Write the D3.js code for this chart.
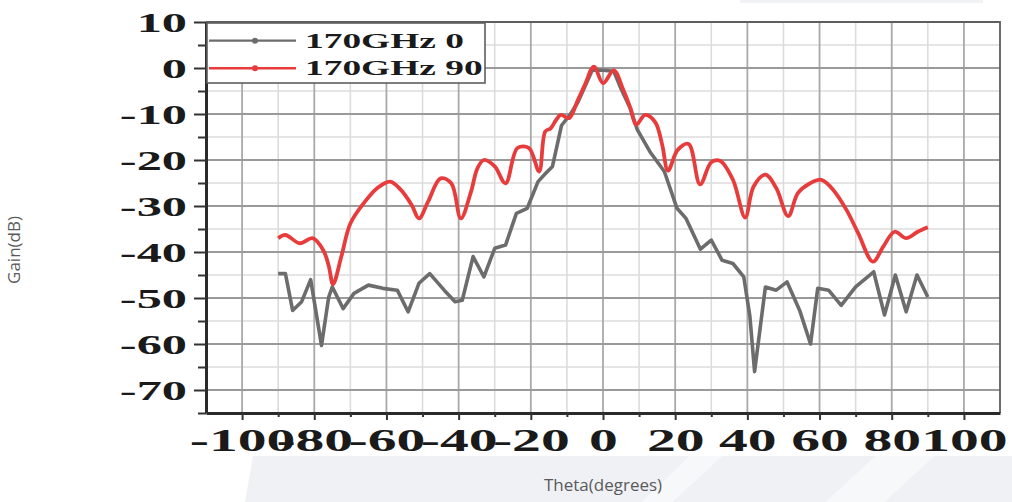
<!DOCTYPE html>
<html lang="en">
<head>
<meta charset="UTF-8">
<title>Gain vs Theta</title>
<style>
    html, body { margin: 0; padding: 0; background: #fff; }
    svg { display: block; }
    .tick text { font-family: "Liberation Serif", "Times New Roman", serif; font-weight: bold; fill: #1a1a1a; }
    .axis-title { font-family: "Open Sans", sans-serif; font-size: 17px; fill: #5a5a5a; }
</style>
</head>
<body>
<svg id="chart"></svg>
<script src="https://d3js.org/d3.v7.min.js"></script>
<script>
    // 170GHz 0 (gray)
    var thetaGray = [-90, -88, -86, -83.5, -81, -78, -76, -75, -72, -69, -65, -61, -57, -54, -51, -48, -44, -41, -39, -36,
        -33, -30, -27, -24, -21, -18, -16, -14, -11.5, -9, -7, -5, -3, 0, 3, 5, 7.5, 9.5, 13, 17,
        20.5, 23, 27, 30, 33, 36, 39, 40.7, 42, 45, 48, 51, 54.5, 57.5, 59.5, 62.5, 66, 70, 75, 78,
        81, 84, 87, 90]
    var gainGray = [-44.7, -44.7, -52.7, -50.8, -46, -60.3, -49.8, -47.6, -52.3, -49, -47.2, -47.9, -48.3, -53, -46.8, -44.7, -48.3, -50.8, -50.5, -41,
        -45.4, -39.2, -38.5, -31.6, -30.5, -24.7, -23, -21.4, -12.5, -10, -7.5, -4, -0.5, -0.5, -0.7, -4.5, -8.7, -13.4, -18.2, -22.5,
        -30.5, -32.7, -39.4, -37.4, -41.8, -42.5, -45.4, -54, -66, -47.6, -48.3, -46.5, -52.7, -60, -47.9, -48.3, -51.6, -47.6, -44.3, -53.7,
        -45, -53, -45, -49.8]

    // 170GHz 90 (red)
    var thetaRed = [-90, -88, -84, -80.5, -77.5, -76, -74.8, -72.5, -70, -66, -62.5, -59, -56, -53, -51, -48.5, -45, -42, -39.4, -36.6,
        -34.8, -33, -30, -27, -23.7, -20.5, -17.7, -16, -14.5, -13, -11.7, -9.4, -7, -5, -2.5, 0, 3, 5.5, 7.6, 9.2,
        11.7, 14.5, 16.4, 18, 20.7, 23.7, 26.9, 30, 32.5, 36, 39.4, 41.7, 45, 48, 51.3, 54, 57.3, 60.5, 63.8, 67.5,
        70.7, 74.8, 77.6, 80.8, 84, 87.2, 90]
    var gainRed = [-37, -36.3, -38.1, -37, -39.6, -43, -47, -41, -33.8, -29.1, -26.1, -24.7, -26.5, -29.8, -32.7, -29.1, -24, -25.1, -32.7, -27,
        -21.8, -20, -21.4, -25.1, -17.4, -17.4, -22.5, -13.8, -13.1, -11.3, -10.2, -10.9, -7, -3.6, 0.3, -3.3, -0.5, -4.5, -8.7, -12.3,
        -10.2, -11.8, -16.7, -22.3, -17.8, -16.5, -25.3, -20.5, -20.2, -24.3, -32.5, -25.8, -23.2, -26.1, -32.2, -27.2, -25.1, -24.3, -26.5, -30.9,
        -35.9, -42.1, -38.9, -35.6, -37, -35.6, -34.6]

    var seriesNames = ['170GHz 0', '170GHz 90']
    var xTicks = [-100, -80, -60, -40, -20, 0, 20, 40, 60, 80, 100]
    var xMinor = [-110, -90, -70, -50, -30, -10, 10, 30, 50, 70, 90, 110]
    var yTicks = [-70, -60, -50, -40, -30, -20, -10, 0, 10]
    var yMinor = [-75, -65, -55, -45, -35, -25, -15, -5, 5]

    var svgWidth = 1012, svgHeight = 502
    var plotLeft = 206, plotRight = 1000, plotTop = 22, plotBottom = 413
    var gray = '#6c6c6c', red = '#e83b3b'

    var svg = d3.select('#chart')
        .attr('width', svgWidth)
        .attr('height', svgHeight)

    // faint watermark shapes of the page behind the picture
    var bg = svg.append('g')
    bg.append('rect').attr('x', 740).attr('y', 0).attr('width', 243).attr('height', 3).attr('fill', '#f1f2f6')
    bg.append('path').attr('fill', '#f0f1f5')
        .attr('d', 'M253,456 L690,456 L642,502 L245,502 Z M722,456 L876,456 L826,502 L672,502 Z M934,456 L1012,456 L1012,502 L884,502 Z')
    bg.append('path').attr('fill', '#f7f8fa')
        .attr('d', 'M690,456 L722,456 L672,502 L642,502 Z M876,456 L934,456 L884,502 L826,502 Z')

    var x = d3.scaleLinear().domain([-110, 110]).range([plotLeft, plotRight])
    var y = d3.scaleLinear().domain([-75, 10]).range([plotBottom, plotTop])

    // grid
    var grid = svg.append('g')
    grid.selectAll('.vminor').data(xMinor.slice(1, -1)).enter().append('line')
        .attr('x1', function (d) { return x(d) }).attr('x2', function (d) { return x(d) })
        .attr('y1', plotTop).attr('y2', plotBottom)
        .attr('stroke', '#dcdcdc').attr('stroke-width', 1.6)
    grid.selectAll('.hminor').data(yMinor.slice(1)).enter().append('line')
        .attr('x1', plotLeft).attr('x2', plotRight)
        .attr('y1', function (d) { return y(d) }).attr('y2', function (d) { return y(d) })
        .attr('stroke', '#dcdcdc').attr('stroke-width', 1.6)
    grid.selectAll('.vmajor').data(xTicks).enter().append('line')
        .attr('x1', function (d) { return x(d) }).attr('x2', function (d) { return x(d) })
        .attr('y1', plotTop).attr('y2', plotBottom)
        .attr('stroke', '#a9a9a9').attr('stroke-width', 1.8)
    grid.selectAll('.hmajor').data(yTicks.slice(0, -1)).enter().append('line')
        .attr('x1', plotLeft).attr('x2', plotRight)
        .attr('y1', function (d) { return y(d) }).attr('y2', function (d) { return y(d) })
        .attr('stroke', '#9a9a9a').attr('stroke-width', 1.8)

    // frame top and right
    svg.append('path')
        .attr('d', 'M' + plotLeft + ',' + plotTop + 'H' + plotRight + 'V' + plotBottom)
        .attr('fill', 'none').attr('stroke', '#5e5e5e').attr('stroke-width', 1.8)

    // curves
    var lineGray = d3.line()
        .x(function (d, i) { return x(thetaGray[i]) })
        .y(function (d) { return y(d) })
    var lineRed = d3.line()
        .x(function (d, i) { return x(thetaRed[i]) })
        .y(function (d) { return y(d) })
        .curve(d3.curveCatmullRom.alpha(0.5))

    svg.append('path').datum(gainGray)
        .attr('d', lineGray)
        .attr('fill', 'none').attr('stroke', gray).attr('stroke-width', 3.6)
        .attr('stroke-linejoin', 'round')
    svg.append('path').datum(gainRed)
        .attr('d', lineRed)
        .attr('fill', 'none').attr('stroke', red).attr('stroke-width', 3.8)
        .attr('stroke-linejoin', 'round')

    // axes
    var sx = 1.8
    var yAxis = svg.append('g').attr('transform', 'translate(' + plotLeft + ',0)')
        .call(d3.axisLeft(y).tickValues(yTicks).tickSize(12).tickSizeOuter(0)
            .tickFormat(function (d) { return String(d) }))
    yAxis.selectAll('text')
        .attr('font-size', 28)
        .attr('x', -19 / sx)
        .attr('dy', '0.34em')
        .attr('transform', 'scale(' + sx + ',1)')
    svg.append('g').attr('transform', 'translate(' + plotLeft + ',0)')
        .call(d3.axisLeft(y).tickValues(yMinor).tickSize(8).tickFormat(''))
        .select('.domain').remove()

    var xAxis = svg.append('g').attr('transform', 'translate(0,' + plotBottom + ')')
        .call(d3.axisBottom(x).tickValues(xTicks).tickSize(7).tickSizeOuter(0)
            .tickFormat(function (d) { return String(d) }))
    xAxis.selectAll('text')
        .attr('font-size', 32)
        .attr('y', 38)
        .attr('dy', 0)
        .attr('transform', 'scale(' + sx + ',1)')
    svg.append('g').attr('transform', 'translate(0,' + plotBottom + ')')
        .call(d3.axisBottom(x).tickValues(xMinor.slice(1, -1)).tickSize(4).tickFormat(''))
        .select('.domain').remove()

    svg.selectAll('.tick line').attr('stroke', '#333').attr('stroke-width', 2)
    svg.selectAll('.domain').attr('stroke', '#2a2a2a').attr('stroke-width', 3)

    // legend
    var legend = svg.append('g')
    legend.append('rect')
        .attr('x', plotLeft + 1).attr('y', plotTop + 1).attr('width', 278).attr('height', 60)
        .attr('fill', '#fff').attr('stroke', '#5e5e5e').attr('stroke-width', 1.6)
    var rows = legend.selectAll('.row').data(seriesNames).enter().append('g')
        .attr('transform', function (d, i) { return 'translate(0,' + (40.7 + i * 27.6) + ')' })
    rows.append('line')
        .attr('x1', 209).attr('x2', 296).attr('y1', 0).attr('y2', 0)
        .attr('stroke', function (d, i) { return i ? red : gray })
        .attr('stroke-width', function (d, i) { return i ? 2.6 : 2.2 })
    rows.append('circle')
        .attr('cx', 255).attr('cy', 0).attr('r', 3)
        .attr('fill', function (d, i) { return i ? red : gray })
    rows.append('text')
        .attr('transform', 'translate(305,7) scale(1.7,1)')
        .attr('font-family', '"Liberation Serif", "Times New Roman", serif')
        .attr('font-weight', 'bold')
        .attr('font-size', 22)
        .attr('fill', '#1a1a1a')
        .text(function (d) { return d })

    // axis titles
    svg.append('text').attr('class', 'axis-title')
        .attr('transform', 'translate(20,250) rotate(-90)')
        .attr('text-anchor', 'middle')
        .text('Gain(dB)')
    svg.append('text').attr('class', 'axis-title')
        .attr('x', 603).attr('y', 491)
        .attr('text-anchor', 'middle')
        .text('Theta(degrees)')
</script>
</body>
</html>
